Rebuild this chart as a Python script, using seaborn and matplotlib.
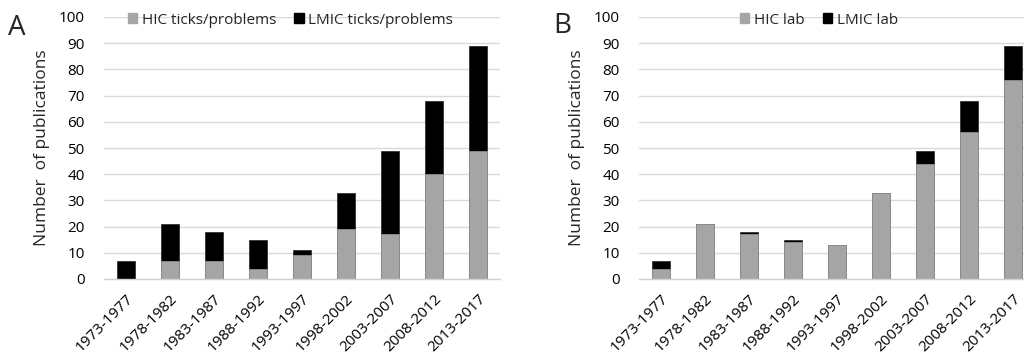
import matplotlib
matplotlib.use("Agg")
import matplotlib.pyplot as plt
import seaborn as sns
import pandas as pd
from matplotlib.patches import Patch

periods = ["1973-1977", "1978-1982", "1983-1987", "1988-1992", "1993-1997",
           "1998-2002", "2003-2007", "2008-2012", "2013-2017"]
a_hic = [0, 7, 7, 4, 9, 19, 17, 40, 49]
a_lmic = [7, 14, 11, 11, 2, 14, 32, 28, 40]
b_hic = [4, 21, 17, 14, 13, 33, 44, 56, 76]
b_lmic = [3, 0, 1, 1, 0, 0, 5, 12, 13]
yticks = [0, 10, 20, 30, 40, 50, 60, 70, 80, 90, 100]

sns.set_theme(style="white")
plt.rcParams['font.family'] = ['Open Sans', 'DejaVu Sans']

GRAY = "#a5a5a5"
BLACK = "#000000"

fig = plt.figure(figsize=(10.24, 3.61), dpi=100)
W, H = 1024, 361
axA = fig.add_axes([104 / W, 1 - 279 / H, 396 / W, 262 / H])
axB = fig.add_axes([639 / W, 1 - 279 / H, 396 / W, 262 / H])


def panel(ax, hic, lmic, labels, letter, lx, ly, legx):
    df = pd.DataFrame({"period": periods, "hic": hic,
                       "total": [h + l for h, l in zip(hic, lmic)]})
    sns.barplot(data=df, x="period", y="total", order=periods, color=BLACK,
                width=0.4, ax=ax, saturation=1, edgecolor="#222222", linewidth=0.5)
    sns.barplot(data=df, x="period", y="hic", order=periods, color=GRAY,
                width=0.4, ax=ax, saturation=1, edgecolor="#8f8f8f", linewidth=0.6)
    ax.set_xlim(-0.5, 8.5)
    ax.set_ylim(0, 100)
    ax.set_yticks(yticks)
    ax.yaxis.grid(True, color="#d9d9d9", linewidth=1.0)
    ax.set_axisbelow(True)
    for s in ["top", "right", "left"]:
        ax.spines[s].set_visible(False)
    ax.spines["bottom"].set_color("#d0d0d0")
    ax.spines["bottom"].set_linewidth(1.0)
    ax.tick_params(axis="both", length=0, labelsize=11, colors="#000000")
    ax.tick_params(axis="y", pad=14)
    ax.set_xticks(range(len(periods)))
    ax.set_xticklabels(periods, rotation=45, ha="right", rotation_mode="anchor",
                       fontsize=11)
    ax.tick_params(axis="x", pad=9)
    ax.set_xlabel("")
    ax.set_ylabel("Number  of publications", fontsize=12.5, labelpad=6)
    handles = [Patch(facecolor=GRAY, edgecolor=GRAY), Patch(facecolor=BLACK, edgecolor=BLACK)]
    ax.legend(handles, labels, ncol=2, frameon=False, loc="upper left",
              bbox_to_anchor=(legx, 1.04), fontsize=11, handlelength=0.6,
              handleheight=0.6, handletextpad=0.3, columnspacing=1.2,
              borderaxespad=0)
    fig.text(lx / W, 1 - ly / H, letter, fontsize=20, ha="left", va="center")


panel(axA, a_hic, a_lmic, ["HIC ticks/problems", "LMIC ticks/problems"], "A", 8, 28, 0.045)
panel(axB, b_hic, b_lmic, ["HIC lab", "LMIC lab"], "B", 553, 26, 0.24)

fig.savefig("out.png", dpi=100)
